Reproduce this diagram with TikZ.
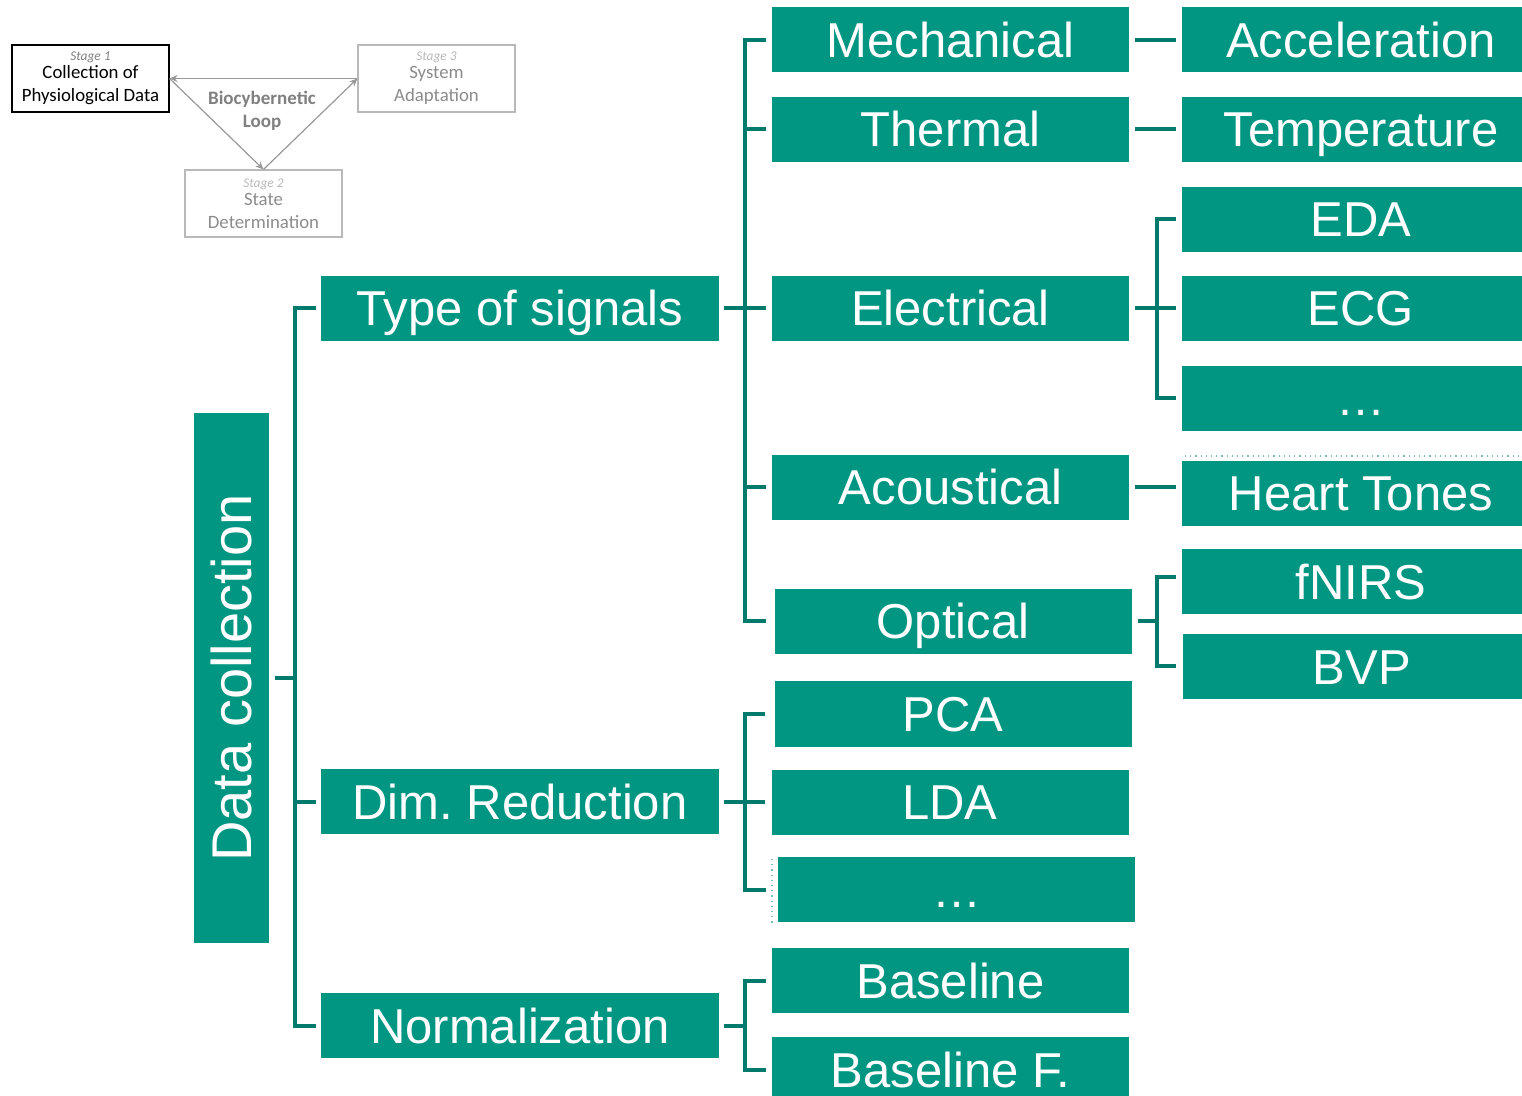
\documentclass[tikz,border=0pt]{standalone}
\usepackage{fontspec}
\setmainfont{Liberation Sans}
\newfontfamily\calib{Carlito}
\usetikzlibrary{arrows.meta}
\definecolor{tealfill}{RGB}{0,150,130}
\definecolor{tealline}{RGB}{0,122,108}
\definecolor{tealdot}{RGB}{120,190,178}
\definecolor{loopgray}{RGB}{128,128,128}
\definecolor{fadegray}{RGB}{140,140,140}
\definecolor{palegray}{RGB}{185,185,185}
\newcommand\stagetag{\fontsize{6.7}{8}\selectfont\itshape}
\tikzset{
  box/.style={fill=tealfill, text=white, inner sep=0pt,
    font=\fontsize{24.5}{29}\selectfont\frenchspacing, text height=17.5pt, text depth=0pt,
    minimum height=32.5pt},
  wide/.style={box, minimum width=199pt},
  mid/.style={box, minimum width=178.5pt},
  right/.style={box, minimum width=179pt},
  conn/.style={draw=tealline, line width=2pt, line join=miter},
  stage/.style={inner sep=0pt, minimum width=78.5pt, minimum height=33.5pt,
    align=center, font=\calib\fontsize{9.4}{11.5}\selectfont, line width=0.55pt},
  looparrow/.style={draw=loopgray!80, line width=0.6pt, -{Stealth[length=4pt,width=3.5pt]}}
}
\begin{document}
\begin{tikzpicture}[x=0.5pt,y=-0.5pt]
\useasboundingbox (0,0) rectangle (1522,1096);
\clip (0,0) rectangle (1522,1096);
\fill[white] (0,0) rectangle (1522,1096);

% biocybernetic loop sketch
\node[stage, draw=black] (st1) at (90.5,78.5)
  {{\stagetag\color{loopgray}Stage 1}\\[-2.5pt]Collection of\\Physiological Data};
\node[stage, draw=palegray, text=fadegray] (st3) at (436.5,78.5)
  {{\stagetag\color{palegray}Stage 3}\\[-2.5pt]System\\Adaptation};
\node[stage, draw=palegray, text=fadegray] (st2) at (263.5,203.5)
  {{\stagetag\color{palegray}Stage 2}\\[-2.5pt]State\\Determination};
\draw[looparrow] (st3.west) -- (st1.east);
\draw[looparrow] (st1.east) -- (st2.north);
\draw[looparrow] (st2.north) -- (st3.west);
\node[align=center, text=loopgray, font=\calib\bfseries\fontsize{9.5}{11.5}\selectfont]
  (looplbl) at (262,111) {Biocybernetic\\Loop};

% root
\node[box, rotate=90, minimum width=265pt, minimum height=37.5pt,
  font=\fontsize{28}{33}\selectfont, text height=20pt] (data) at (231.5,678) {Data collection};

% first level
\node[wide] (types) at (520,308.5) {Type of signals};
\node[wide] (dimred) at (520,801.5) {Dim. Reduction};
\node[wide] (norm) at (520,1025.5) {Normalization};

% signal categories
\node[mid] (mech) at (950.5,40) {Mechanical};
\node[mid] (therm) at (950.5,129.5) {Thermal};
\node[mid] (elec) at (950.5,308.5) {Electrical};
\node[mid] (acou) at (950.5,487.5) {Acoustical};
\node[mid] (opt) at (953,621.5) {Optical};

% reduction methods
\node[mid] (pca) at (953,714) {PCA};
\node[mid] (lda) at (950,802) {LDA};
\node[mid] (dimmore) at (956.5,889.5) {\dots};

% normalization methods
\node[mid] (base) at (950.5,980.5) {Baseline};
\node[mid] (basef) at (950.5,1069.5) {Baseline F.};

% concrete signals
\node[right] (accel) at (1361,40) {Acceleration};
\node[right] (temp) at (1361,129.5) {Temperature};
\node[right] (eda) at (1361,219.5) {EDA};
\node[right] (ecg) at (1361,308.5) {ECG};
\node[right] (elmore) at (1361,398.5) {\dots};
\node[right] (heart) at (1361,493.5) {Heart Tones};
\node[right] (fnirs) at (1361,582) {fNIRS};
\node[right] (bvp) at (1362,666.5) {BVP};

% faint guide lines
\draw[tealdot, line width=0.6pt, dotted] (1185,456) -- (1522,456);
\draw[tealdot, line width=0.6pt, dotted] (772,859) -- (772,923);

% bus positions
\coordinate (bus0) at (295,0);
\coordinate (bus1) at (745,0);
\coordinate (bus2) at (1157,0);

% root bracket
\draw[conn] ([shift={(6,0)}]data.south) -- (data.south -| bus0);
\draw[conn] ([shift={(-5,0)}]types.west) -| (norm.west -| bus0) -- ([shift={(-5,0)}]norm.west);
\draw[conn] ([shift={(-5,0)}]dimred.west) -- (dimred.west -| bus0);

% type of signals bracket
\draw[conn] ([shift={(5,0)}]types.east) -- (types.east -| bus1);
\draw[conn] ([shift={(-6,0)}]mech.west) -| (opt.west -| bus1) -- ([shift={(-8,0)}]opt.west);
\draw[conn] ([shift={(-6,0)}]therm.west) -- (therm.west -| bus1);
\draw[conn] ([shift={(-6,0)}]elec.west) -- (elec.west -| bus1);
\draw[conn] ([shift={(-6,0)}]acou.west) -- (acou.west -| bus1);

% dim. reduction bracket
\draw[conn] ([shift={(5,0)}]dimred.east) -- (dimred.east -| bus1);
\draw[conn] ([shift={(-9,0)}]pca.west) -| (dimmore.west -| bus1) -- ([shift={(-12,0)}]dimmore.west);
\draw[conn] ([shift={(-6,0)}]lda.west) -- (lda.west -| bus1);

% normalization bracket
\draw[conn] ([shift={(5,0)}]norm.east) -- (norm.east -| bus1);
\draw[conn] ([shift={(-6,0)}]base.west) -| (basef.west -| bus1) -- ([shift={(-6,0)}]basef.west);

% leaf connections
\draw[conn] ([shift={(6,0)}]mech.east) -- ([shift={(-6,0)}]accel.west);
\draw[conn] ([shift={(6,0)}]therm.east) -- ([shift={(-6,0)}]temp.west);
\draw[conn] ([shift={(6,0)}]acou.east) -- ([shift={(-6,0)}]acou.east -| heart.west);
\draw[conn] ([shift={(6,0)}]elec.east) -- (elec.east -| bus2);
\draw[conn] ([shift={(-6,0)}]eda.west) -| (elmore.west -| bus2) -- ([shift={(-6,0)}]elmore.west);
\draw[conn] ([shift={(-6,0)}]ecg.west) -- (ecg.west -| bus2);
\draw[conn] ([shift={(6,0)}]opt.east) -- (opt.east -| bus2);
\draw[conn] ([shift={(-6,-4.5)}]fnirs.west) -| (bvp.west -| bus2) -- ([shift={(-7,0)}]bvp.west);
\end{tikzpicture}
\end{document}
